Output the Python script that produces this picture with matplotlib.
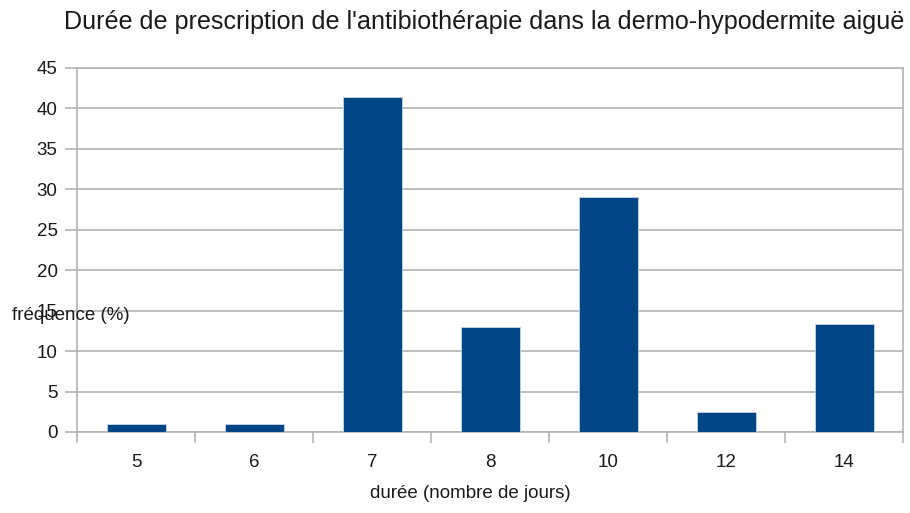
import matplotlib
matplotlib.use("Agg")
import matplotlib.pyplot as plt
import numpy as np

categories = ["5", "6", "7", "8", "10", "12", "14"]
frequences = [0.95, 0.95, 41.4, 13.0, 29.0, 2.5, 13.4]

title = "Durée de prescription de l'antibiothérapie dans la dermo-hypodermite aiguë"
x_label = "durée (nombre de jours)"
y_label = "fréquence (%)"

plt.rcParams["font.family"] = ["Liberation Sans", "DejaVu Sans"]

W, H = 910, 513
fig = plt.figure(figsize=(W / 100, H / 100), dpi=100)
ax = fig.add_axes([77 / W, 1 - 432 / H, (903 - 77) / W, (432 - 67.7) / H])

grid_col = "#b3b3b3"
x = np.arange(len(categories))
ax.bar(x, frequences, width=0.5, color="#004586", edgecolor="#c8d6e6",
       linewidth=0.6, zorder=3)

ax.set_xlim(-0.5, len(categories) - 0.5)
ax.set_ylim(0, 45)
ax.set_yticks(np.arange(0, 46, 5))
ax.yaxis.grid(True, color=grid_col, linewidth=1.2, zorder=0)

ax.set_xticks(x)
ax.set_xticklabels(categories)
ax.set_xticks(np.arange(-0.5, len(categories), 1), minor=True)
ax.tick_params(axis="x", which="major", length=0, pad=16, labelsize=13.5,
               labelcolor="#1a1a1a")
ax.tick_params(axis="x", which="minor", length=8, width=1.2, color=grid_col)
ax.tick_params(axis="y", length=9, width=1.2, color=grid_col, pad=5,
               labelsize=13.5, labelcolor="#1a1a1a")

for side in ["left", "right", "bottom", "top"]:
    ax.spines[side].set_color(grid_col)
    ax.spines[side].set_linewidth(1.2)

# the y label sits horizontally over the "15" tick, as in the source chart
fig.text(12 / W, 1 - 316 / H, y_label, ha="left", va="center",
         fontsize=13.5, color="#1a1a1a")
fig.text(470 / W, 1 - 494 / H, x_label, ha="center", va="center",
         fontsize=13.5, color="#1a1a1a")

# fit title to its span in the reference (about 63..905 px)
t = fig.text(484 / W, 1 - 22 / H, title, ha="center", va="center",
             fontsize=17, color="#1a1a1a")
fig.canvas.draw()
w = t.get_window_extent().width
t.set_fontsize(17 * 842 / w)

fig.savefig("out.png", dpi=100)
